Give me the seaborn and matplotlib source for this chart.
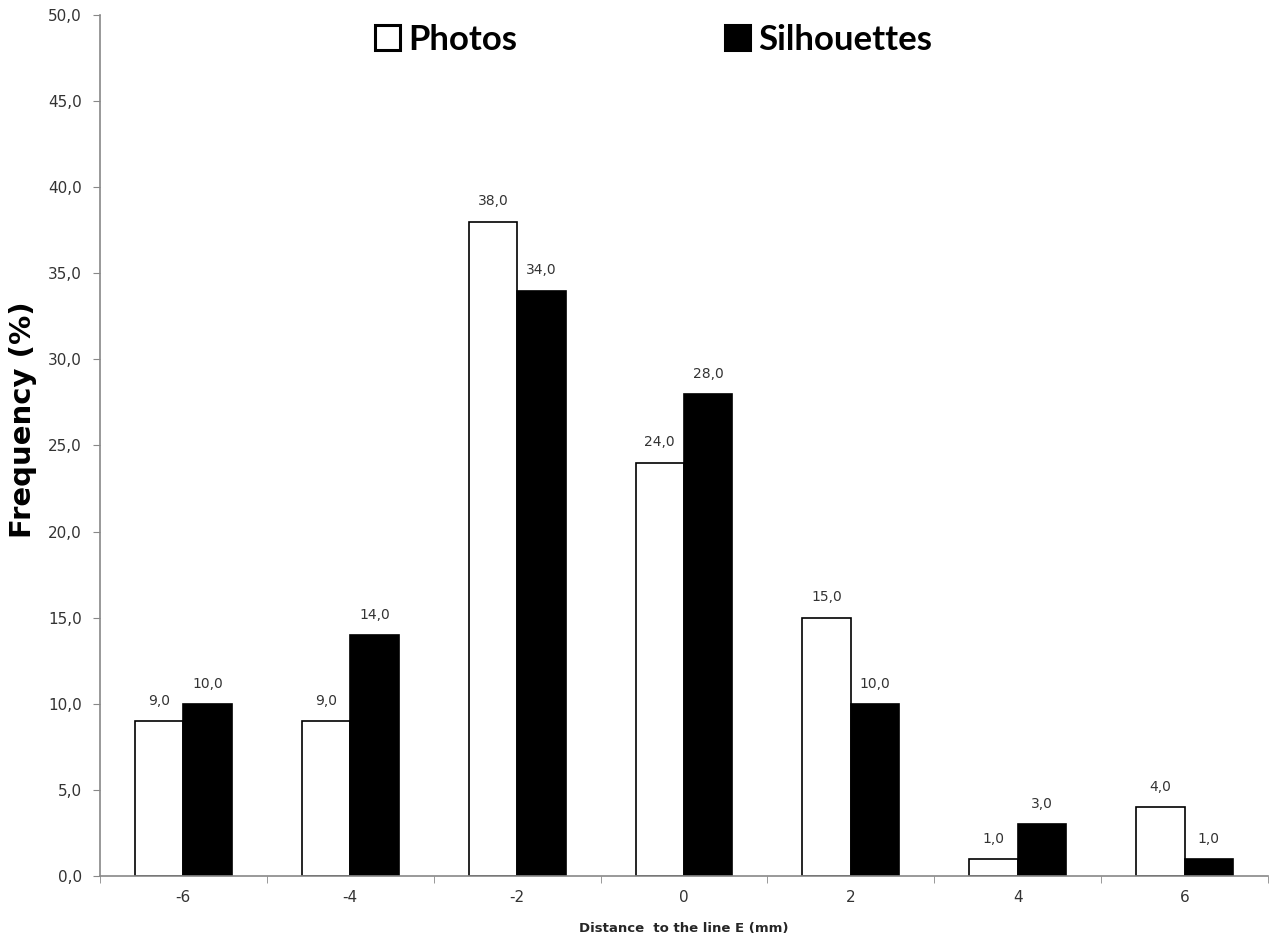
import pandas as pd
import matplotlib.pyplot as plt
import seaborn as sns

# data
distances = ['-6', '-4', '-2', '0', '2', '4', '6']
photos = [9.0, 9.0, 38.0, 24.0, 15.0, 1.0, 4.0]
silhouettes = [10.0, 14.0, 34.0, 28.0, 10.0, 3.0, 1.0]
series_names = ['Photos', 'Silhouettes']

df = pd.DataFrame({
    'distance': distances * 2,
    'freq': photos + silhouettes,
    'group': [series_names[0]] * len(photos) + [series_names[1]] * len(silhouettes),
})

sns.set_style('white')
plt.rcParams['font.family'] = ['DejaVu Sans']

fig = plt.figure(figsize=(12.78, 9.43), dpi=100)
ax = fig.add_axes([0.0782, 0.0711, 0.914, 0.913])

sns.barplot(data=df, x='distance', y='freq', hue='group', order=distances,
            hue_order=series_names, palette=['white', 'black'],
            edgecolor='black', linewidth=1.2, width=0.58, ax=ax)

for cont in ax.containers:
    ax.bar_label(cont, labels=[f'{v:.1f}'.replace('.', ',') for v in cont.datavalues],
                 padding=9.5, fontsize=10, color='#333333')

ax.set_ylim(0, 50)
ax.set_xlim(-0.5, len(distances) - 0.5)
ax.set_yticks([i * 5 for i in range(11)])
ax.set_yticklabels([f'{i * 5:.1f}'.replace('.', ',') for i in range(11)], fontsize=11, color='#333333')
ax.set_xticks(range(len(distances)))
ax.set_xticklabels(distances, fontsize=11, color='#333333')
ax.tick_params(axis='x', length=0, pad=10)
ax.tick_params(axis='y', length=5, color='#888888', direction='out', left=True, pad=8)
# category boundary ticks on the x axis
ax.set_xticks([i - 0.5 for i in range(len(distances) + 1)], minor=True)
ax.tick_params(axis='x', which='minor', length=5, color='#888888', direction='out', bottom=True)

for side in ['top', 'right']:
    ax.spines[side].set_visible(False)
for side in ['left', 'bottom']:
    ax.spines[side].set_color('#888888')
    ax.spines[side].set_linewidth(1.2)

ax.set_ylabel('Frequency (%)', fontsize=21, fontweight='bold', color='black')
ax.yaxis.set_label_coords(-0.054, 0.530)
ax.set_xlabel('Distance  to the line E (mm)', fontsize=9.5, fontweight='bold', labelpad=12)

handles, labels = ax.get_legend_handles_labels()
for h in handles:
    h.set_linewidth(2.2)
leg = ax.legend(handles, labels, loc='center', bbox_to_anchor=(0.474, 0.971), ncol=2,
                frameon=False, prop={'family': 'Lato', 'size': 25, 'weight': 'bold'},
                handlelength=0.72, handleheight=0.72, handletextpad=0.26, columnspacing=5.96)
for t in leg.get_texts():
    t.set_color('black')

plt.savefig('out.png', dpi=100)
plt.close()
